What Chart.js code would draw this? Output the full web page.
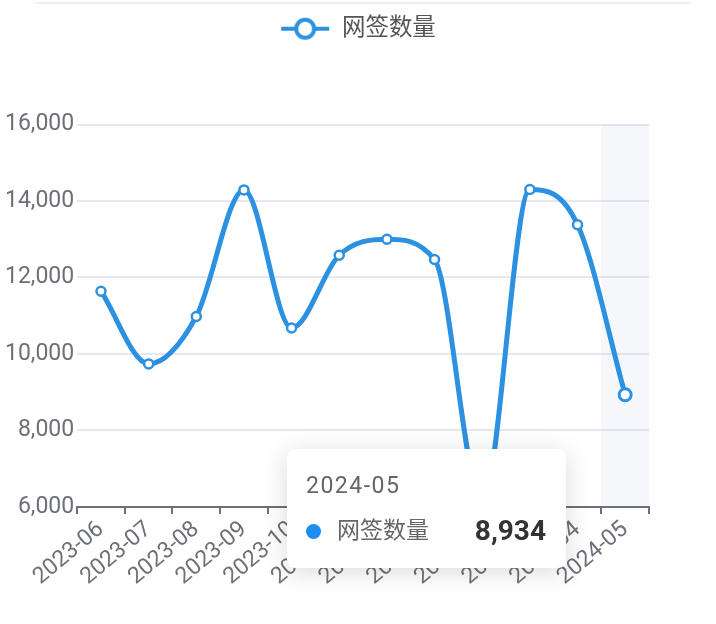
<!DOCTYPE html>
<html>
<head>
<meta charset="utf-8">
<script src="https://cdn.jsdelivr.net/npm/chart.js@4.4.1/dist/chart.umd.min.js"></script>
<style>
  html, body { margin: 0; padding: 0; background: #fff; }
  #wrap { position: relative; width: 716px; height: 624px; }
  #myChart { position: relative; z-index: 1; }
  #topline { position: absolute; left: 35px; right: 26px; top: 2px; height: 0; border-top: 2px solid #f0f0f0; }
  #tip {
    position: absolute; display: none; z-index: 5;
    background: #fff; border-radius: 8px;
    box-shadow: 0 4px 26px rgba(0,0,0,0.15);
    font-family: Roboto, "Noto Sans CJK SC", sans-serif;
    padding: 22px 20px 18px 19px; box-sizing: border-box;
  }
  #tip .t { font-size: 23px; color: #666; line-height: 30px; letter-spacing: 1.5px; }
  #tip .row { display: flex; align-items: center; margin-top: 14px; line-height: 32px; }
  #tip .dot { width: 15px; height: 15px; border-radius: 50%; margin-right: 16px; }
  #tip .lab { font-size: 23px; color: #666; flex: 1; }
  #tip .val { font-size: 28px; color: #333; font-weight: bold; margin-left: 30px; }
</style>
</head>
<body>
<div id="wrap">
  <div id="topline"></div>
  <canvas id="myChart" width="716" height="624"></canvas>
  <div id="tip"></div>
</div>
<script>
'use strict';

let months = ['2023-06', '2023-07', '2023-08', '2023-09', '2023-10', '2023-11',
  '2023-12', '2024-01', '2024-02', '2024-03', '2024-04', '2024-05'];
let signCount = [11640, 9740, 10980, 14290, 10680, 12580, 13000, 12470, 6100, 14300, 13380, 8934];
let seriesName = '网签数量';
let yTicks = [6000, 8000, 10000, 12000, 14000, 16000];
let activeIndex = 11;

const lineColor = '#2d91e1';
const axisColor = '#6e7079';
const fontFamily = 'Roboto, "Noto Sans CJK SC", sans-serif';

// legend icon: line with a ring in the middle
function makeLegendIcon() {
  let c = document.createElement('canvas');
  c.width = 50;
  c.height = 24;
  let g = c.getContext('2d');
  g.strokeStyle = lineColor;
  g.lineWidth = 4;
  g.beginPath();
  g.moveTo(1, 12);
  g.lineTo(49, 12);
  g.stroke();
  g.fillStyle = '#fff';
  g.beginPath();
  g.arc(25, 12, 9, 0, Math.PI * 2);
  g.fill();
  g.stroke();
  return c;
}
let legendIcon = makeLegendIcon();

// extra room under the legend, and centre it on the whole canvas
const legendGap = {
  id: 'legendGap',
  beforeInit(chart) {
    let fit = chart.legend.fit;
    chart.legend.fit = function () {
      fit.bind(chart.legend)();
      this.height += 74;
    };
  },
  afterLayout(chart) {
    chart.legend.left = 0;
    chart.legend.right = chart.width;
    chart.legend.width = chart.width;
  }
};

// shaded band behind the hovered category
const shadowBand = {
  id: 'shadowBand',
  beforeDatasetsDraw(chart) {
    let x = chart.scales.x;
    let area = chart.chartArea;
    let half = (x.getPixelForValue(1) - x.getPixelForValue(0)) / 2;
    let cx = x.getPixelForValue(activeIndex);
    let ctx = chart.ctx;
    ctx.save();
    ctx.fillStyle = 'rgba(150, 170, 215, 0.09)';
    ctx.fillRect(cx - half, area.top, half * 2, area.bottom - area.top);
    ctx.restore();
  }
};

function externalTip(context) {
  let tip = document.getElementById('tip');
  let model = context.tooltip;
  if (model.opacity === 0 || !model.dataPoints || !model.dataPoints.length) {
    tip.style.display = 'none';
    return;
  }
  let p = model.dataPoints[0];
  tip.innerHTML =
    '<div class="t">' + model.title[0] + '</div>' +
    '<div class="row"><span class="dot" style="background:#1e8cf0"></span>' +
    '<span class="lab">' + p.dataset.label + '</span>' +
    '<span class="val">' + p.raw.toLocaleString('en-US') + '</span></div>';
  tip.style.display = 'block';
  tip.style.left = '287px';
  tip.style.top = '449px';
  tip.style.width = '279px';
  tip.style.height = '119px';
}

let ctx = document.getElementById('myChart').getContext('2d');
let myChart = new Chart(ctx, {
  type: 'line',
  data: {
    labels: months,
    datasets: [{
      label: seriesName,
      data: signCount,
      borderColor: lineColor,
      backgroundColor: '#fff',
      borderWidth: 5,
      cubicInterpolationMode: 'monotone',
      pointRadius: 4.5,
      pointBorderWidth: 2.5,
      pointBackgroundColor: '#fff',
      pointBorderColor: lineColor,
      pointHoverRadius: 6,
      pointHoverBorderWidth: 3,
      pointHoverBackgroundColor: '#fff',
      pointHoverBorderColor: lineColor
    }]
  },
  options: {
    responsive: false,
    animation: false,
    layout: { padding: { left: 2, right: 67, top: 6, bottom: 31 } },
    plugins: {
      legend: {
        position: 'top',
        labels: {
          usePointStyle: true,
          pointStyleWidth: 50,
          padding: 11,
          color: '#555',
          font: { family: fontFamily, size: 23.5 },
          generateLabels(chart) {
            return chart.data.datasets.map((ds, i) => ({
              text: ds.label,
              pointStyle: legendIcon,
              fontColor: '#555',
              datasetIndex: i,
              lineWidth: 0,
              strokeStyle: 'transparent',
              fillStyle: 'transparent'
            }));
          }
        }
      },
      tooltip: {
        enabled: false,
        mode: 'index',
        intersect: false,
        external: externalTip
      }
    },
    scales: {
      x: {
        type: 'category',
        offset: true,
        grid: {
          offset: true,
          drawOnChartArea: false,
          color: axisColor,
          lineWidth: 2,
          tickLength: 7
        },
        border: { color: axisColor, width: 2 },
        ticks: {
          color: axisColor,
          font: { family: fontFamily, size: 23 },
          minRotation: 40,
          maxRotation: 40,
          autoSkip: false,
          padding: 2
        }
      },
      y: {
        min: yTicks[0],
        max: yTicks[yTicks.length - 1],
        afterBuildTicks(scale) {
          scale.ticks = yTicks.map(v => ({ value: v }));
        },
        grid: { color: '#e5e8f0', lineWidth: 2, drawTicks: false },
        border: { display: false },
        ticks: {
          color: axisColor,
          font: { family: fontFamily, size: 23 },
          padding: 3,
          callback: v => v.toLocaleString('en-US')
        }
      }
    }
  },
  plugins: [legendGap, shadowBand]
});

let active = [{ datasetIndex: 0, index: activeIndex }];
let pt = myChart.getDatasetMeta(0).data[activeIndex];
myChart.setActiveElements(active);
myChart.tooltip.setActiveElements(active, { x: pt.x, y: pt.y });
myChart.update();
</script>
</body>
</html>
